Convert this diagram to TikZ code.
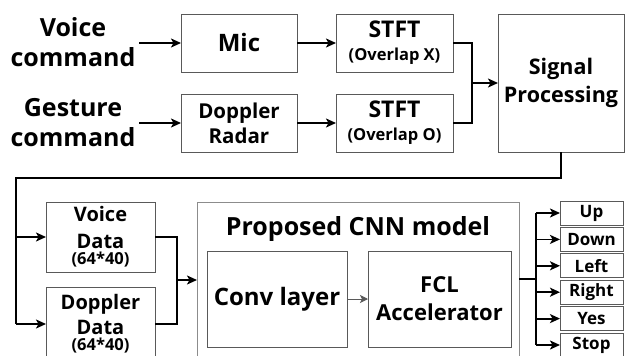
\documentclass[tikz,border=0pt]{standalone}
\usepackage{fontspec}
\setmainfont{Open Sans}
\usetikzlibrary{arrows.meta,calc}
\begin{document}
\begin{tikzpicture}[x=1pt,y=-1pt,
  box/.style={draw=black!65,line width=0.9pt,inner sep=0pt,outer sep=0pt,align=center,font=\bfseries},
  arr/.style={line width=1.8pt,-{Stealth[length=10pt,width=9pt,inset=2.5pt]}},
  ln/.style={line width=1.8pt},
  lbl/.style={align=center,font=\bfseries,inner sep=0pt}]
\useasboundingbox (0,0) rectangle (625,356);
\clip (0,0) rectangle (625,356);
% top row
\node[lbl,font=\bfseries\fontsize{25}{30}\selectfont] (vc) at (73,42) {Voice\\command};
\node[lbl,font=\bfseries\fontsize{25}{30}\selectfont] (gc) at (73,123) {Gesture\\command};
\node[box,anchor=north west,minimum width=116,minimum height=58,font=\bfseries\fontsize{24}{28}\selectfont] (mic) at (181,14) {Mic};
\node[box,anchor=north west,minimum width=116,minimum height=58,font=\bfseries\fontsize{20.5}{25}\selectfont] (radar) at (181,94) {Doppler\\Radar};
\node[box,anchor=north west,minimum width=117,minimum height=58,font=\bfseries\fontsize{23}{24}\selectfont] (stft1) at (336,14) {STFT\\[-1pt]{\fontsize{16.5}{17}\selectfont (Overlap X)}};
\node[box,anchor=north west,minimum width=117,minimum height=58,font=\bfseries\fontsize{23}{24}\selectfont] (stft2) at (336,94) {STFT\\[-1pt]{\fontsize{16.5}{17}\selectfont (Overlap O)}};
\node[box,anchor=north west,minimum width=126,minimum height=138,font=\bfseries\fontsize{21.5}{28}\selectfont] (sig) at (498,14) {Signal\\Processing};
\coordinate (vce) at (139,43);
\coordinate (gce) at (139,123);
\draw[arr] (vce) -- (mic.west);
\draw[arr] (gce) -- (radar.west);
\draw[arr] (mic) -- (stft1);
\draw[arr] (radar) -- (stft2);
\coordinate (j1) at (472,83);
\draw[ln] (stft1.east) -| (j1) |- (stft2.east);
\draw[arr] (j1) -- (sig.west);
% bottom row
\node[box,anchor=north west,minimum width=109,minimum height=70,font=\bfseries\fontsize{20}{27}\selectfont] (vdata) at (46,202) {Voice\\Data\\[-11pt]{\fontsize{16.5}{17}\selectfont (64*40)}};
\node[box,anchor=north west,minimum width=109,minimum height=74,font=\bfseries\fontsize{20}{25}\selectfont] (ddata) at (46,287) {Doppler\\Data\\[-9pt]{\fontsize{16.5}{17}\selectfont (64*40)}};
\node[box,draw=black!45,anchor=north west,minimum width=322,minimum height=170] (cnn) at (197,202) {};
\node[lbl,anchor=base,font=\bfseries\fontsize{25}{28}\selectfont] (title) at (358,235) {Proposed CNN model};
\node[box,anchor=north west,minimum width=140,minimum height=96,font=\bfseries\fontsize{24}{28}\selectfont] (conv) at (207,251) {Conv layer};
\node[box,anchor=north west,minimum width=143,minimum height=96,font=\bfseries\fontsize{22}{28}\selectfont] (fcl) at (368,251) {FCL\\Accelerator};
\draw[line width=1pt,black!65,-{Stealth[length=8pt,width=8pt,inset=2pt]}] (conv.east) -- (fcl.west);
\coordinate (s1) at (16,178);
\coordinate (s2) at (16,324);
\draw[ln] (sig.south) |- (s1) -- (s2);
\draw[arr] (vdata.west -| s1) -- (vdata.west);
\draw[arr] (s2) -- (ddata.west);
\coordinate (j2) at (177,280);
\draw[ln] (vdata.east) -| (j2) |- (ddata.east);
\draw[arr] (j2) -- (cnn.west |- j2);
% outputs
\foreach \t [count=\i from 0] in {Up,Down,Left,Right,Yes,Stop}{
  \node[box,anchor=north west,minimum width=63,minimum height=24,font=\bfseries\fontsize{17}{18}\selectfont] (o\i) at (560,{201+26.4*\i}) {\t};
}
\coordinate (j3) at (536,279);
\draw[ln] (cnn.east |- j3) -- (j3);
\draw[ln] (o0.west -| j3) -- (o5.west -| j3);
\foreach \i in {0,...,5}{
  \draw[arr] (o\i.west -| j3) -- (o\i.west);
}
\end{tikzpicture}
\end{document}
